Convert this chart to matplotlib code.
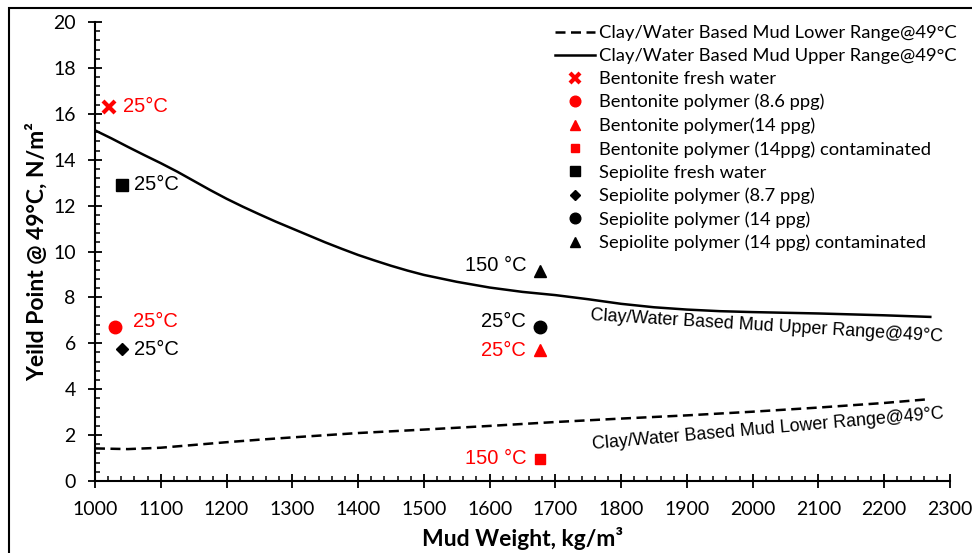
import matplotlib
matplotlib.use("Agg")
import matplotlib.pyplot as plt
from matplotlib.patches import Rectangle
from matplotlib.ticker import MultipleLocator

# clay/water based mud range curves @ 49 C
upper_x = [1000, 1025, 1050, 1075, 1100, 1125, 1150, 1175, 1200, 1225, 1250,
           1275, 1300, 1325, 1350, 1375, 1400, 1425, 1450, 1475, 1500, 1550,
           1600, 1650, 1700, 1750, 1800, 1850, 1900, 1950, 2000, 2050, 2100,
           2150, 2200, 2270]
upper_y = [15.28, 14.93, 14.56, 14.2, 13.85, 13.48, 13.08, 12.68, 12.3, 11.95, 11.62,
           11.3, 11.0, 10.7, 10.4, 10.12, 9.85, 9.61, 9.38, 9.17, 8.98, 8.68,
           8.43, 8.24, 8.1, 7.92, 7.72, 7.57, 7.47, 7.4, 7.36, 7.33, 7.3,
           7.26, 7.22, 7.15]
lower_x = [1000, 1050, 1100, 1150, 1200, 1250, 1300, 1400, 1500, 1600, 1700,
           1800, 1900, 2000, 2100, 2200, 2270]
lower_y = [1.42, 1.39, 1.45, 1.57, 1.69, 1.8, 1.9, 2.09, 2.24, 2.4, 2.57,
           2.72, 2.86, 3.02, 3.2, 3.4, 3.57]

# measured samples
names = ["Bentonite fresh water", "Bentonite polymer (8.6 ppg)", "Bentonite polymer(14 ppg)",
         "Bentonite polymer (14ppg) contaminated", "Sepiolite fresh water",
         "Sepiolite polymer (8.7 ppg)", "Sepiolite polymer (14 ppg)",
         "Sepiolite polymer (14 ppg) contaminated"]
weights = [1021, 1030, 1677, 1677, 1041, 1041, 1677, 1677]
yields = [16.3, 6.7, 5.7, 0.96, 12.9, 5.75, 6.7, 9.15]
markers = ["x", "o", "^", "s", "s", "D", "o", "^"]
colors = ["red", "red", "red", "red", "black", "black", "black", "black"]
sizes = [8, 9, 8, 7, 8, 6.5, 9, 8]
temps = ["25°C", "25°C", "25°C", "150 °C", "25°C", "25°C", "25°C", "150 °C"]
# label offsets in points (dx, dy) and alignment
offsets = [(10, 0, "left"), (13, 4, "left"), (-10, 0, "right"), (-10, 0, "right"),
           (9, 0, "left"), (9, 0, "left"), (-10, 4, "right"), (-10, 4, "right")]

lab_font = ["Lato", "DejaVu Sans"]
ann_font = ["Liberation Sans", "DejaVu Sans"]

fig = plt.figure(figsize=(9.72, 5.53), dpi=100)
ax = fig.add_axes([0.0977, 0.1302, 0.8797, 0.83])

ax.plot(lower_x, lower_y, "k--", lw=1.8, dashes=(4, 2.2),
        label="Clay/Water Based Mud Lower Range@49°C")
ax.plot(upper_x, upper_y, "k-", lw=1.8,
        label="Clay/Water Based Mud Upper Range@49°C")

for i in range(len(names)):
    mew = 3 if markers[i] == "x" else 1
    ax.plot(weights[i], yields[i], linestyle="none", marker=markers[i],
            color=colors[i], markersize=sizes[i], markeredgewidth=mew,
            label=names[i])
    dx, dy, ha = offsets[i]
    ax.annotate(temps[i], (weights[i], yields[i]), xytext=(dx, dy),
                textcoords="offset points", ha=ha, va="center",
                color=colors[i], fontsize=14.5, family=ann_font)

ax.text(2022, 6.75, "Clay/Water Based Mud Upper Range@49°C", rotation=-3.5,
        ha="center", va="center", fontsize=12.9, family=ann_font,
        rotation_mode="anchor")
ax.text(2024, 2.25, "Clay/Water Based Mud Lower Range@49°C", rotation=5,
        ha="center", va="center", fontsize=12.9, family=ann_font,
        rotation_mode="anchor")

ax.set_xlim(1000, 2300)
ax.set_ylim(0, 20)
ax.xaxis.set_major_locator(MultipleLocator(100))
ax.xaxis.set_minor_locator(MultipleLocator(20))
ax.yaxis.set_major_locator(MultipleLocator(2))
ax.yaxis.set_minor_locator(MultipleLocator(0.4))
ax.tick_params(which="major", direction="inout", length=9.5, width=1.3,
               labelsize=14)
ax.tick_params(which="minor", direction="in", length=3.6, width=1.1)
for lab in ax.get_xticklabels() + ax.get_yticklabels():
    lab.set_family(lab_font)
ax.tick_params(axis="x", pad=10)
ax.tick_params(axis="y", pad=9)

for side in ["top", "right"]:
    ax.spines[side].set_visible(False)
for side in ["left", "bottom"]:
    ax.spines[side].set_linewidth(1.5)

ax.set_xlabel("Mud Weight, kg/m³", fontsize=16.5, fontweight="bold",
              family=lab_font, labelpad=6)
ax.set_ylabel("Yeild Point @ 49°C, N/m²", fontsize=16.5, fontweight="bold",
              family=lab_font, labelpad=4)

leg = ax.legend(loc="upper left", bbox_to_anchor=(0.563, 0.968),
                bbox_transform=fig.transFigure, frameon=False,
                prop={"family": lab_font, "size": 13.2},
                handlelength=2.2, handletextpad=0.2, labelspacing=0.38,
                borderaxespad=0, markerscale=0.85)

# outer frame around the chart area
fig.patches.append(Rectangle((9 / 972, -0.1), 1.2, 1.1 - 8 / 553,
                             transform=fig.transFigure, fill=False,
                             edgecolor="black", lw=1.5))

fig.savefig("out.png", dpi=100)
